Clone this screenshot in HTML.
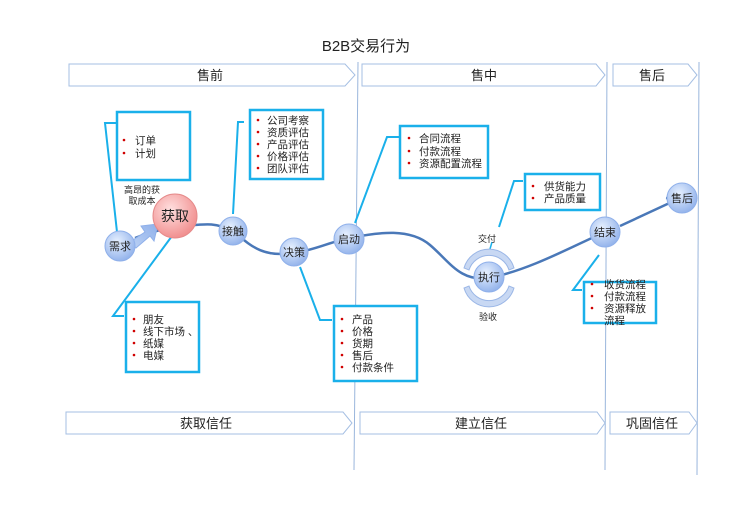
<!DOCTYPE html>
<html><head><meta charset="utf-8"><style>
body{margin:0;background:#fff}
svg text{font-family:"Liberation Sans","Noto Sans CJK SC",sans-serif;fill:#222}
</style></head><body>
<svg width="733" height="504" viewBox="0 0 733 504" xmlns="http://www.w3.org/2000/svg">
<defs>
<radialGradient id="bl" cx="40%" cy="35%" r="70%"><stop offset="0" stop-color="#e6f0ff"/><stop offset="1" stop-color="#8fb0ea"/></radialGradient>
<radialGradient id="pk" cx="40%" cy="35%" r="70%"><stop offset="0" stop-color="#ffe0e0"/><stop offset="1" stop-color="#f08a8a"/></radialGradient>
<linearGradient id="ar" x1="0" y1="1" x2="1" y2="0"><stop offset="0" stop-color="#bcd2f5"/><stop offset="1" stop-color="#8fb0ea"/></linearGradient>
</defs>
<text x="366" y="51" font-size="15" text-anchor="middle">B2B交易行为</text>
<!-- vertical lines -->
<g stroke="#9ab6dc" stroke-width="1"><line x1="358" y1="62" x2="354" y2="470"/><line x1="607" y1="62" x2="605" y2="470"/><line x1="699" y1="62" x2="697" y2="475"/></g>
<!-- header arrows -->
<g fill="#fff" stroke="#a5bfe3" stroke-width="1">
<polygon points="69,64 345,64 355,75 345,86 69,86"/>
<polygon points="362,64 596,64 605,75 596,86 362,86"/>
<polygon points="613,64 688,64 697,75 688,86 613,86"/>
<polygon points="66,412 343,412 352,423 343,434 66,434"/>
<polygon points="360,412 597,412 605,423 597,434 360,434"/>
<polygon points="610,412 689,412 697,423 689,434 610,434"/>
</g>
<g font-size="13" text-anchor="middle">
<text x="210" y="80">售前</text><text x="484" y="80">售中</text><text x="652" y="80">售后</text>
<text x="206" y="428">获取信任</text><text x="481" y="428">建立信任</text><text x="652" y="428">巩固信任</text>
</g>
<!-- curve -->
<path d="M135,238 C150,232 165,228 185,226 C205,224 215,222 233,231 C250,245 262,258 294,253 C315,250 330,242 349,238 C380,232 410,228 430,245 C450,262 460,282 489,278 C530,270 575,245 605,232" fill="none" stroke="#4a78b8" stroke-width="2.5"/>
<line x1="620" y1="226" x2="676" y2="200" stroke="#4a78b8" stroke-width="2.5"/>
<polyline points="666,198 677,199 671,208" fill="none" stroke="#4a78b8" stroke-width="2.5"/>
<!-- big arrow 需求->获取 -->
<polygon points="130,242 145,232 141,226 158,224 154,241 150,236 136,248" fill="url(#ar)" stroke="#8fb0ea"/>
<!-- leader lines -->
<g fill="none" stroke="#1ab0ea" stroke-width="2">
<polyline points="118,123 105,123 117,232"/>
<polyline points="244,122 238,122 233,214"/>
<polyline points="172,236 113,316 124,316"/>
<polyline points="300,267 320,320 332,320"/>
<polyline points="355,223 387,137 400,137"/>
<polyline points="499,227 514,181 523,181"/>
<polyline points="599,255 573,290 582,290"/>
<line x1="492" y1="242" x2="490" y2="249" stroke-width="1.5"/>
</g>
<!-- boxes -->
<g fill="#fff" stroke="#1ab0ea" stroke-width="2.5">
<rect x="117" y="112" width="73" height="68"/>
<rect x="250" y="110" width="73" height="69"/>
<rect x="126" y="302" width="73" height="70"/>
<rect x="334" y="306" width="83" height="75"/>
<rect x="400" y="126" width="88" height="52"/>
<rect x="525" y="174" width="75" height="36"/>
<rect x="584" y="282" width="72" height="41"/>
</g>
<g fill="#d00000">
<circle cx="124" cy="140" r="1.3"/><circle cx="124" cy="153" r="1.3"/>
<circle cx="258" cy="120" r="1.3"/><circle cx="258" cy="132" r="1.3"/><circle cx="258" cy="144" r="1.3"/><circle cx="258" cy="156" r="1.3"/><circle cx="258" cy="168" r="1.3"/>
<circle cx="134" cy="319" r="1.3"/><circle cx="134" cy="331" r="1.3"/><circle cx="134" cy="343" r="1.3"/><circle cx="134" cy="355" r="1.3"/>
<circle cx="342" cy="319" r="1.3"/><circle cx="342" cy="331" r="1.3"/><circle cx="342" cy="343" r="1.3"/><circle cx="342" cy="355" r="1.3"/><circle cx="342" cy="367" r="1.3"/>
<circle cx="409" cy="138" r="1.3"/><circle cx="409" cy="151" r="1.3"/><circle cx="409" cy="163" r="1.3"/>
<circle cx="533" cy="186" r="1.3"/><circle cx="533" cy="198" r="1.3"/>
<circle cx="592" cy="284" r="1.3"/><circle cx="592" cy="296" r="1.3"/><circle cx="592" cy="308" r="1.3"/>
</g>
<g font-size="10.5">
<text x="135" y="144">订单</text><text x="135" y="157">计划</text>
<text x="267" y="124">公司考察</text><text x="267" y="136">资质评估</text><text x="267" y="148">产品评估</text><text x="267" y="160">价格评估</text><text x="267" y="172">团队评估</text>
<text x="143" y="323">朋友</text><text x="143" y="335">线下市场 、</text><text x="143" y="347">纸媒</text><text x="143" y="359">电媒</text>
<text x="352" y="323">产品</text><text x="352" y="335">价格</text><text x="352" y="347">货期</text><text x="352" y="359">售后</text><text x="352" y="371">付款条件</text>
<text x="419" y="142">合同流程</text><text x="419" y="155">付款流程</text><text x="419" y="167">资源配置流程</text>
<text x="544" y="190">供货能力</text><text x="544" y="202">产品质量</text>
<text x="604" y="288">收货流程</text><text x="604" y="300">付款流程</text><text x="604" y="312">资源释放</text><text x="604" y="324">流程</text>
</g>
<g font-size="9" text-anchor="middle"><text x="142" y="193">高昂的获</text><text x="142" y="204">取成本</text>
<text x="487" y="242">交付</text><text x="488" y="320">验收</text></g>
<!-- execution arcs -->
<g fill="#c8d8f3" stroke="#9ab6e6" stroke-width="1">
<path d="M464,268 A26,26 0 0 1 514,268 L509,270 A21,21 0 0 0 469,270 Z"/>
<path d="M464,288 A26,26 0 0 0 514,288 L509,286 A21,21 0 0 1 469,286 Z"/>
</g>
<!-- nodes -->
<g stroke="#8fb0ea" stroke-width="1">
<circle cx="120" cy="246" r="15" fill="url(#bl)"/>
<circle cx="175" cy="216" r="22" fill="url(#pk)" stroke="#e58a8a"/>
<circle cx="233" cy="231" r="14" fill="url(#bl)"/>
<circle cx="294" cy="252" r="14" fill="url(#bl)"/>
<circle cx="349" cy="239" r="15" fill="url(#bl)"/>
<circle cx="489" cy="277" r="15" fill="url(#bl)"/>
<circle cx="605" cy="232" r="15" fill="url(#bl)"/>
<circle cx="682" cy="198" r="15" fill="url(#bl)"/>
</g>
<g font-size="11" text-anchor="middle">
<text x="120" y="250">需求</text><text x="175" y="221" font-size="14">获取</text><text x="233" y="235">接触</text>
<text x="294" y="256">决策</text><text x="349" y="243">启动</text><text x="489" y="281">执行</text>
<text x="605" y="236">结束</text><text x="682" y="202">售后</text>
</g>
</svg>
</body></html>
